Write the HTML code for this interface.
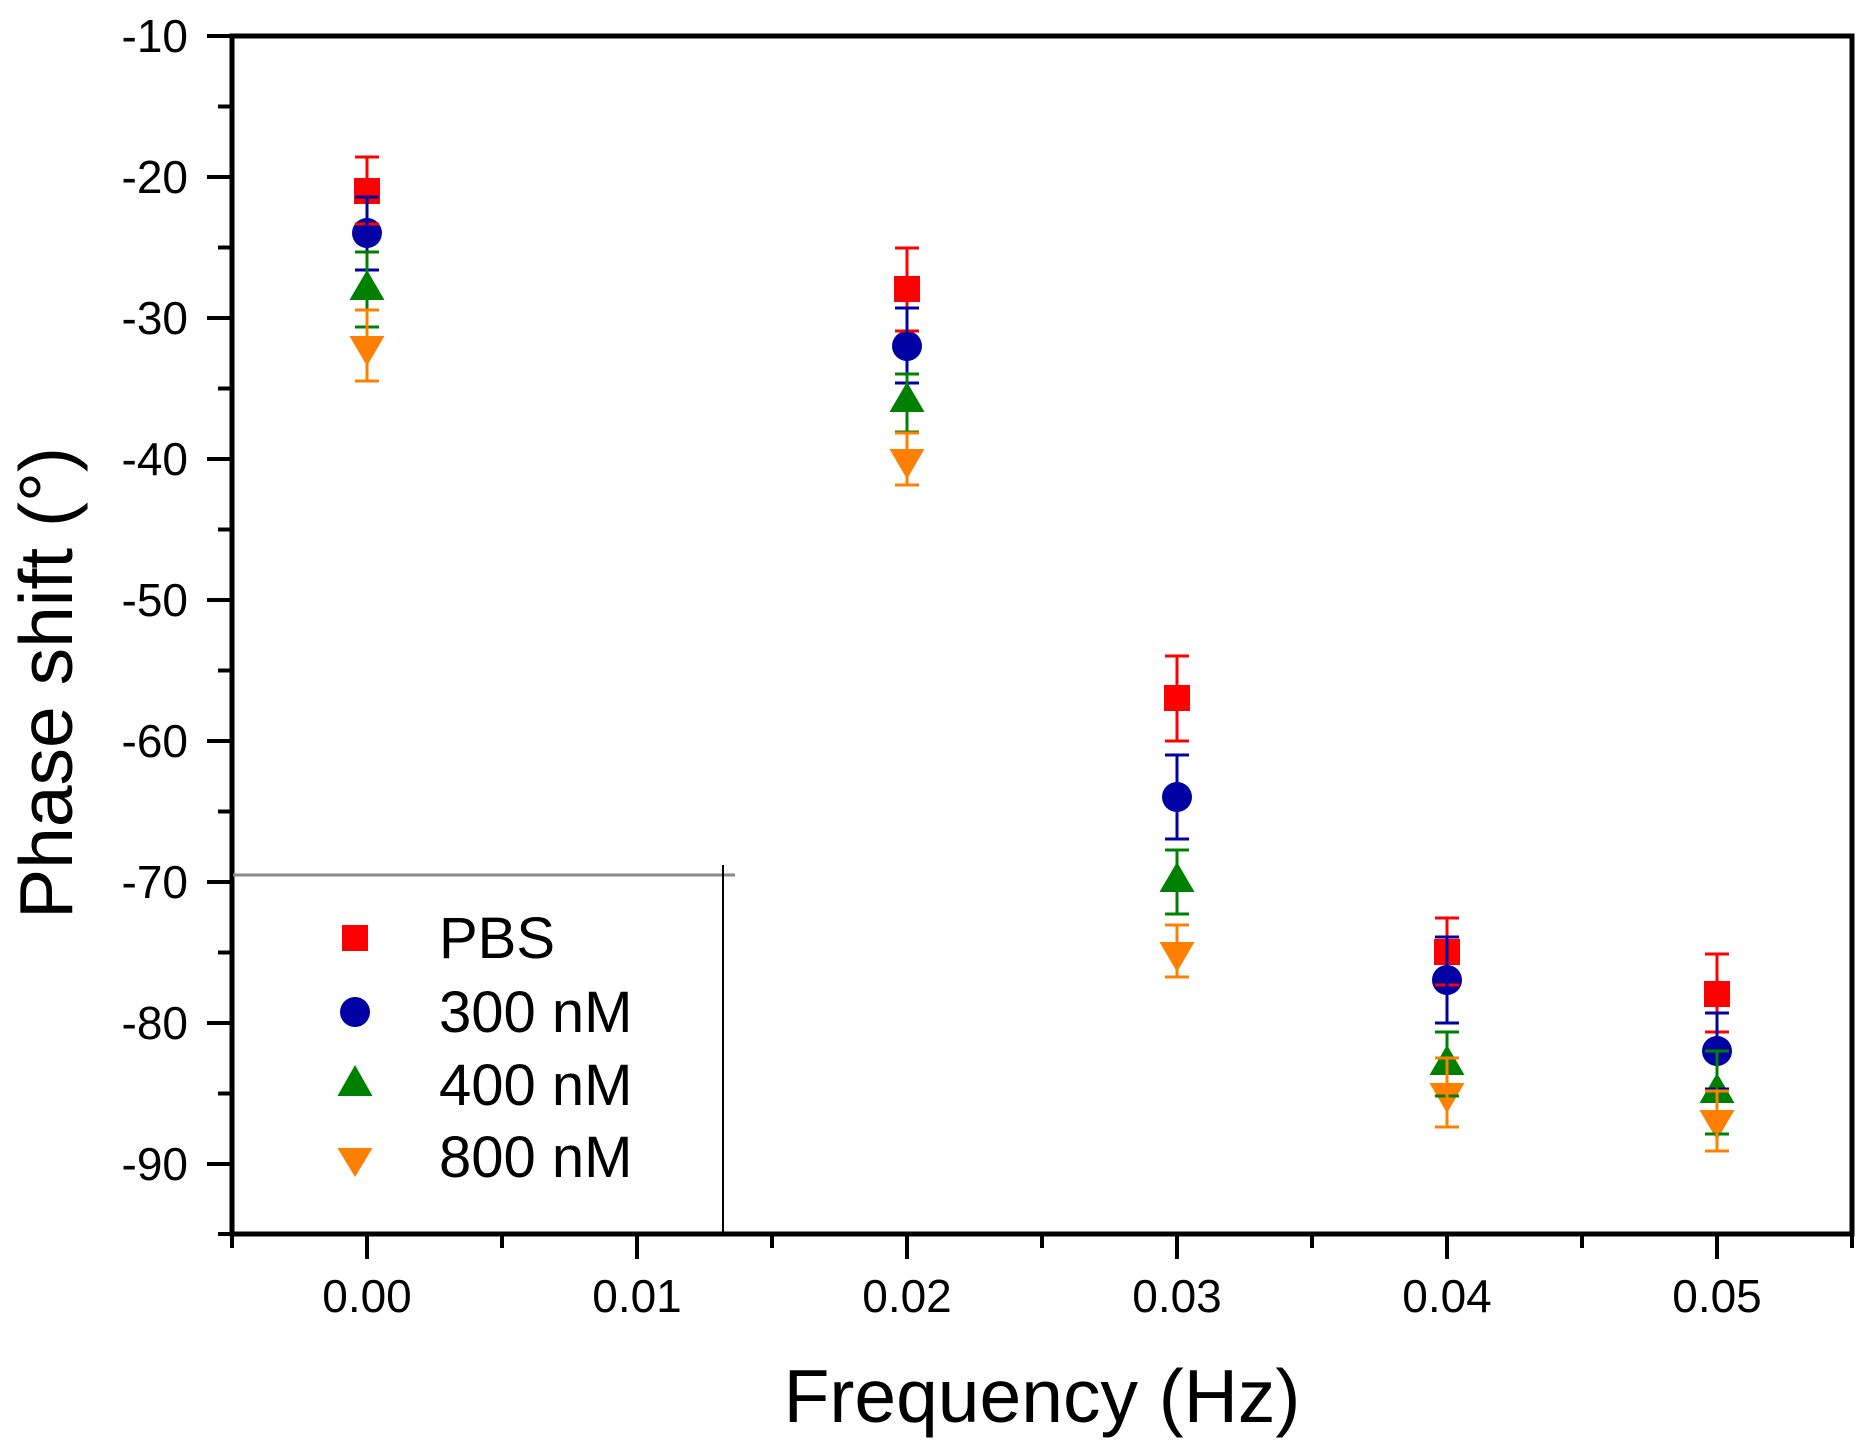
<!DOCTYPE html>
<html><head><meta charset="utf-8"><style>
html,body{margin:0;padding:0;background:#fff;}
svg{display:block;}
text{font-family:"Liberation Sans",Arial,sans-serif;fill:#000;}
</style></head><body>
<svg width="1869" height="1453" viewBox="0 0 1869 1453" xmlns="http://www.w3.org/2000/svg">
<rect width="1869" height="1453" fill="#fff"/>
<!-- frame -->
<rect x="232" y="36" width="1620" height="1198" fill="none" stroke="#000" stroke-width="5"/>
<!-- y ticks major -->
<g stroke="#000" stroke-width="4">
<line x1="207" y1="36" x2="232" y2="36"/>
<line x1="207" y1="177" x2="232" y2="177"/>
<line x1="207" y1="318" x2="232" y2="318"/>
<line x1="207" y1="459" x2="232" y2="459"/>
<line x1="207" y1="600" x2="232" y2="600"/>
<line x1="207" y1="741" x2="232" y2="741"/>
<line x1="207" y1="882" x2="232" y2="882"/>
<line x1="207" y1="1023" x2="232" y2="1023"/>
<line x1="207" y1="1164" x2="232" y2="1164"/>
<!-- y minor -->
<line x1="218" y1="106.5" x2="232" y2="106.5"/>
<line x1="218" y1="247.5" x2="232" y2="247.5"/>
<line x1="218" y1="388.5" x2="232" y2="388.5"/>
<line x1="218" y1="529.5" x2="232" y2="529.5"/>
<line x1="218" y1="670.5" x2="232" y2="670.5"/>
<line x1="218" y1="811.5" x2="232" y2="811.5"/>
<line x1="218" y1="952.5" x2="232" y2="952.5"/>
<line x1="218" y1="1093.5" x2="232" y2="1093.5"/>
<line x1="218" y1="1234" x2="232" y2="1234"/>
<!-- x major -->
<line x1="367" y1="1234" x2="367" y2="1259"/>
<line x1="637" y1="1234" x2="637" y2="1259"/>
<line x1="907" y1="1234" x2="907" y2="1259"/>
<line x1="1177" y1="1234" x2="1177" y2="1259"/>
<line x1="1447" y1="1234" x2="1447" y2="1259"/>
<line x1="1717" y1="1234" x2="1717" y2="1259"/>
<!-- x minor -->
<line x1="232" y1="1234" x2="232" y2="1248"/>
<line x1="502" y1="1234" x2="502" y2="1248"/>
<line x1="772" y1="1234" x2="772" y2="1248"/>
<line x1="1042" y1="1234" x2="1042" y2="1248"/>
<line x1="1312" y1="1234" x2="1312" y2="1248"/>
<line x1="1582" y1="1234" x2="1582" y2="1248"/>
<line x1="1852" y1="1234" x2="1852" y2="1248"/>
</g>
<!-- y tick labels -->
<g font-size="46" text-anchor="end">
<text x="188" y="52">-10</text>
<text x="188" y="193">-20</text>
<text x="188" y="334">-30</text>
<text x="188" y="475">-40</text>
<text x="188" y="616">-50</text>
<text x="188" y="757">-60</text>
<text x="188" y="898">-70</text>
<text x="188" y="1039">-80</text>
<text x="188" y="1180">-90</text>
</g>
<!-- x tick labels -->
<g font-size="46" text-anchor="middle">
<text x="367" y="1312">0.00</text>
<text x="637" y="1312">0.01</text>
<text x="907" y="1312">0.02</text>
<text x="1177" y="1312">0.03</text>
<text x="1447" y="1312">0.04</text>
<text x="1717" y="1312">0.05</text>
</g>
<!-- axis titles -->
<text x="1042" y="1422" font-size="75" text-anchor="middle">Frequency (Hz)</text>
<text transform="translate(72,683) rotate(-90)" font-size="75" text-anchor="middle">Phase shift (°)</text>

<!-- legend frame -->
<line x1="233" y1="875" x2="735" y2="875" stroke="#8a8a8a" stroke-width="3"/>
<line x1="723" y1="865" x2="723" y2="1234" stroke="#000" stroke-width="2"/>

<!-- markers -->
<g fill="#FF0000">
<rect x="354" y="178" width="26" height="26"/>
<rect x="894" y="276" width="26" height="26"/>
<rect x="1164" y="685" width="26" height="26"/>
<rect x="1434" y="939" width="26" height="26"/>
<rect x="1704" y="981" width="26" height="26"/>
</g>
<g fill="#0000A4">
<circle cx="367" cy="233" r="15"/>
<circle cx="907" cy="346" r="15"/>
<circle cx="1177" cy="797" r="15"/>
<circle cx="1447" cy="980" r="15"/>
<circle cx="1717" cy="1051" r="15"/>
</g>
<g fill="#008000">
<polygon points="367,270 349.5,300 384.5,300"/>
<polygon points="907,382 889.5,412 924.5,412"/>
<polygon points="1177,862 1159.5,892 1194.5,892"/>
<polygon points="1447,1045 1429.5,1075 1464.5,1075"/>
<polygon points="1717,1073 1699.5,1103 1734.5,1103"/>
</g>
<g fill="#FF8000">
<polygon points="349.5,336 384.5,336 367,366"/>
<polygon points="889.5,449 924.5,449 907,479"/>
<polygon points="1159.5,942 1194.5,942 1177,972"/>
<polygon points="1429.5,1083 1464.5,1083 1447,1113"/>
<polygon points="1699.5,1110 1734.5,1110 1717,1140"/>
</g>

<!-- error bars -->
<g stroke="#FF0000" stroke-width="3" fill="none">
<path d="M367,157V224M355,157H379M355,224H379"/>
<path d="M907,248V331M895,248H919M895,331H919"/>
<path d="M1177,656V741M1165,656H1189M1165,741H1189"/>
<path d="M1447,918V985M1435,918H1459M1435,985H1459"/>
<path d="M1717,954V1032M1705,954H1729M1705,1032H1729"/>
</g>
<g stroke="#0000A4" stroke-width="3" fill="none">
<path d="M367,197V270M355,197H379M355,270H379"/>
<path d="M907,308V383M895,308H919M895,383H919"/>
<path d="M1177,755V839M1165,755H1189M1165,839H1189"/>
<path d="M1447,937V1023M1435,937H1459M1435,1023H1459"/>
<path d="M1717,1013V1089M1705,1013H1729M1705,1089H1729"/>
</g>
<g stroke="#008000" stroke-width="3" fill="none">
<path d="M367,252V327M355,252H379M355,327H379"/>
<path d="M907,374V432M895,374H919M895,432H919"/>
<path d="M1177,850V914M1165,850H1189M1165,914H1189"/>
<path d="M1447,1032V1096M1435,1032H1459M1435,1096H1459"/>
<path d="M1717,1051V1134M1705,1051H1729M1705,1134H1729"/>
</g>
<g stroke="#FF8000" stroke-width="3" fill="none">
<path d="M367,310V381M355,310H379M355,381H379"/>
<path d="M907,433V485M895,433H919M895,485H919"/>
<path d="M1177,925V977M1165,925H1189M1165,977H1189"/>
<path d="M1447,1058V1127M1435,1058H1459M1435,1127H1459"/>
<path d="M1717,1091V1151M1705,1091H1729M1705,1151H1729"/>
</g>

<!-- legend entries -->
<rect x="342" y="925" width="26" height="26" fill="#FF0000"/>
<circle cx="355" cy="1012" r="15" fill="#0000A4"/>
<polygon points="355,1065 337.5,1096 372.5,1096" fill="#008000"/>
<polygon points="337.5,1148 372.5,1148 355,1177" fill="#FF8000"/>
<g font-size="58">
<text x="439" y="958">PBS</text>
<text x="439" y="1032">300 nM</text>
<text x="439" y="1105">400 nM</text>
<text x="439" y="1177">800 nM</text>
</g>
</svg>
</body></html>
